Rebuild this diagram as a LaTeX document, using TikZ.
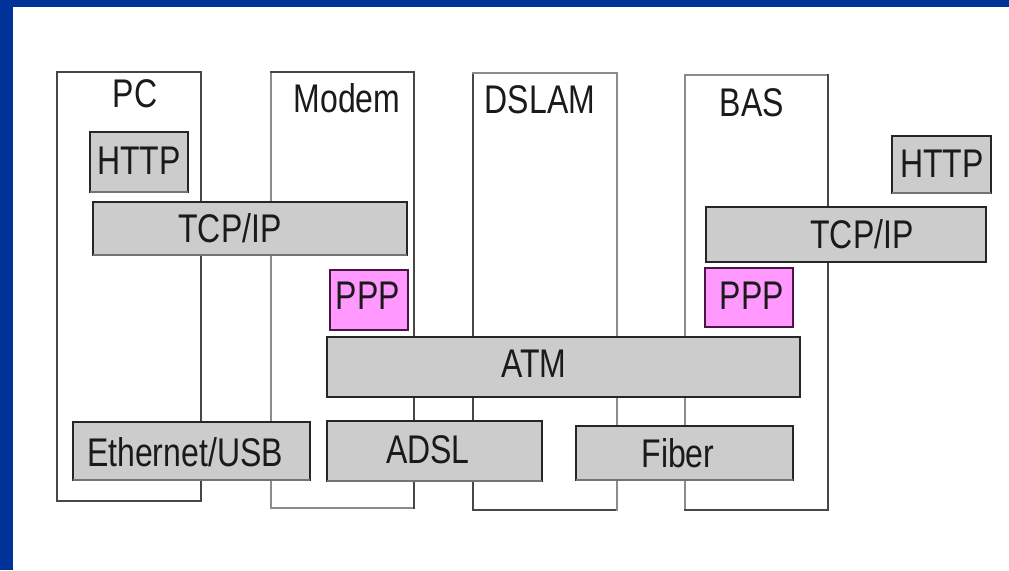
\documentclass[tikz,border=0pt]{standalone}
\usepackage{fontspec}
\setmainfont[FakeStretch=0.8]{Liberation Sans}
\usepackage{tikz}
\usetikzlibrary{positioning}
\definecolor{frameblue}{HTML}{003399}
\definecolor{lnescuro}{HTML}{474747}
\definecolor{lnclaro}{HTML}{8C8C8C}
\definecolor{camada}{HTML}{CCCCCC}
\definecolor{pppfill}{HTML}{FF99FF}
\definecolor{pppline}{HTML}{4A1545}
\definecolor{txt}{HTML}{1A1A1A}
\tikzset{
  escuro/.style={draw=lnescuro,line width=1.2pt,line cap=rect},
  claro/.style={draw=lnclaro,line width=1.2pt,line cap=rect},
  camadabox/.style={draw=black!85,fill=camada,line width=1.2pt},
  pppbox/.style={draw=pppline,fill=pppfill,line width=1.2pt},
  sombra/.style={draw=black!55,line width=1.2pt},
  rot/.style={font=\fontsize{20}{24}\selectfont,text=txt,inner sep=0pt,anchor=center},
}

\begin{document}
\begin{tikzpicture}[x=0.5pt,y=-0.5pt]
  \useasboundingbox (0,0) rectangle (1009,570);
  \fill[white] (0,0) rectangle (1009,570);
  \fill[frameblue] (0,0) rectangle (13,570);
  \fill[frameblue] (0,0) rectangle (1009,7);
  % --- equipamentos
  \draw[escuro] (57,72) rectangle (201,501);
  \node[rot] (pc) at (135,94) {PC};
  \draw[claro] (271,72) |- (414,508);
  \draw[escuro] (271,72) -| (414,508);
  \node[rot] (modem) at (347,98) {Modem};
  \draw[escuro] (473,73) |- (617,510);
  \draw[claro] (473,73) -| (617,510);
  \node[rot] (dslam) at (540,100) {DSLAM};
  \draw[claro] (685,510) |- (828,75);
  \draw[escuro] (685,510) -| (828,75);
  \node[rot] (bas) at (752,103) {BAS};
  % --- pilha do PC
  \draw[camadabox] (90,132) rectangle (188,192); \draw[sombra] (90,192) -- (188,192);
  \node[rot] (httpA) at (139,161) {HTTP};
  \draw[camadabox] (93,202) rectangle (407,255); \draw[sombra] (93,255) -- (407,255);
  \node[rot] (tcpA) at (230,228) {TCP/IP};
  \draw[camadabox] (73,422) rectangle (310,480); \draw[sombra] (73,480) -- (310,480);
  \node[rot] (eth) at (185,452) {Ethernet/USB};
  % --- modem / DSLAM
  \draw[pppbox] (330,270) rectangle (408,330);
  \node[rot] (pppA) at (368,296) {PPP};
  \draw[camadabox] (327,337) rectangle (800,397);
  \node[rot] (atm) at (534,364) {ATM};
  \draw[camadabox] (327,421) rectangle (542,481); \draw[sombra] (327,481) -- (542,481);
  \node[rot] (adsl) at (428,450) {ADSL};
  \draw[camadabox] (576,426) rectangle (793,480); \draw[sombra] (576,480) -- (793,480);
  \node[rot] (fiber) at (678,453) {Fiber};
  % --- pilha do BAS
  \draw[camadabox] (892,136) rectangle (991,193); \draw[sombra] (892,193) -- (991,193);
  \node[rot] (httpB) at (942,164) {HTTP};
  \draw[camadabox] (706,207) rectangle (986,262);
  \node[rot] (tcpB) at (862,234) {TCP/IP};
  \draw[pppbox] (705,268) rectangle (793,327);
  \node[rot] (pppB) at (752,296) {PPP};
\end{tikzpicture}
\end{document}
